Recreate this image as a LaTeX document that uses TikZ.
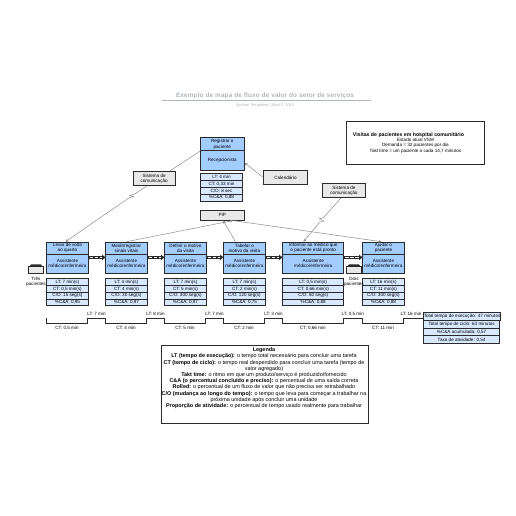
\documentclass[tikz,border=0pt]{standalone}
\usepackage{fontspec}
\setmainfont{Liberation Sans}
\usetikzlibrary{arrows.meta, backgrounds, positioning}
\definecolor{darkline}{HTML}{2A2A2A}
\definecolor{headblue}{HTML}{A3CCFF}
\definecolor{rowblue}{HTML}{D8E9FF}
\definecolor{boxgray}{HTML}{E8E8E8}
\definecolor{infogray}{HTML}{8C8C8C}
\definecolor{titlegray}{HTML}{B0B4BE}
\newcommand{\smalltxt}{\fontsize{4.6}{5.2}\selectfont}
\tikzset{
  boxbase/.style={draw=darkline, line width=0.9pt, inner sep=0pt, anchor=north west, align=center, font=\smalltxt, text=black},
  prochead/.style={boxbase, fill=headblue, minimum height=11.8pt},
  procbody/.style={boxbase, fill=headblue, minimum height=19.2pt},
  statrow/.style={boxbase, fill=rowblue, minimum height=6.75pt},
  grayblock/.style={boxbase, fill=boxgray},
  sumrow/.style={boxbase, fill=rowblue, minimum width=75.7pt, minimum height=7.9pt},
  infoline/.style={draw=infogray, line width=0.5pt},
  infoarrow/.style={infoline, -{Stealth[length=3pt,width=3pt]}},
  pushline/.style={draw=darkline, line width=2.4pt, -{Stealth[length=3.5pt,width=6pt]}},
  pushdash/.style={draw=white, line width=0.8pt, dash pattern=on 3.5pt off 1.5pt},
  tinylabel/.style={font=\smalltxt, text=black, align=center, inner sep=0pt},
  legendline/.style={draw=darkline, line width=0.9pt}
}
\begin{document}
\begin{tikzpicture}[x=1pt, y=-1pt]
\useasboundingbox (0,0) rectangle (516,516);
\node[font=\fontsize{6.4}{8}\bfseries\addfontfeature{LetterSpace=2.5}, text=titlegray, inner sep=0pt] (title) at (265,96) {Exemplo de mapa de fluxo de valor do setor de serviços};
\draw[titlegray, line width=0.9pt] (162,100.3) -- (371,100.3);
\node[font=\fontsize{4}{4.5}\selectfont, text=titlegray, inner sep=0pt] (subtitle) at (265,105) {System Templates | April 2, 2015};

\node[boxbase, minimum width=137.4pt, minimum height=42.7pt] (visits) at (346.3,121) {\fontsize{5.2}{5.75}\selectfont \textbf{Visitas de pacientes em hospital comunitário}\hspace*{14pt}\\Estado atual VSM\\Demanda = 32 pacientes por dia\\Takt time = um paciente a cada 14,7 minutos};

\node[prochead, minimum width=43.7pt, minimum height=13pt] (reghead) at (200,137.3) {Registrar o\\paciente};
\node[procbody, minimum width=43.7pt] (regbody) at (200,150.3) {Recepcionista};
\foreach \i/\txt in {0/{LT: 4 min}, 1/{CT: 0,33 min}, 2/{C/O: 8 sec}, 3/{\%C\&A: 0,88}} {
\node[statrow, minimum width=42pt] (regstat\i) at (200,173.3+\i*6.85) {\txt};
}
\node[grayblock, minimum width=42pt, minimum height=13.4pt] (syslink) at (132.7,171.3) {Sistema de\\comunicação};
\node[grayblock, minimum width=43.4pt, minimum height=13.4pt] (calendar) at (263.3,170.3) {Calendário};
\node[grayblock, minimum width=42.4pt, minimum height=13.4pt] (sysright) at (322.3,183.3) {Sistema de\\comunicação};
\node[grayblock, minimum width=43.7pt, minimum height=10pt] (pip) at (200,209.7) {PIP};

\foreach \nm/\px/\pw/\head/\lt/\ct/\co/\ca in {
p1/46.3/41.4/{Levar de volta\\ao quarto}/7 min(s)/{0,5 min(s)}/15 seg(s)/{0,95},
p2/105.3/41.4/{Medir/registrar\\sinais vitais}/4 min(s)/4 min(s)/30 seg(s)/{0,97},
p3/164.3/41.4/{Definir o motivo\\da visita}/7 min(s)/5 min(s)/300 seg(s)/{0,97},
p4/223.3/41.4/{Tabelar o\\motivo da visita}/7 min(s)/2 min(s)/120 seg(s)/{0,75},
p5/282.3/61/{Informar ao médico que\\o paciente está pronto}/{0,5 min(s)}/{0,66 min(s)}/60 seg(s)/{0,88},
p6/362.3/41.4/{Ajudar o\\paciente}/16 min(s)/11 min(s)/300 seg(s)/{0,88}} {
\node[prochead, minimum width=\pw pt] (\nm head) at (\px,241.7) {\head};
\node[procbody, minimum width=\pw pt] (\nm body) at (\px,253.5) {Assistente\\médico/enfermeira};
\node[statrow, minimum width=\pw pt] (\nm lt) at (\px,278.3) {LT: \lt};
\node[statrow, minimum width=\pw pt] (\nm ct) at (\px,285.05) {CT: \ct};
\node[statrow, minimum width=\pw pt] (\nm co) at (\px,291.8) {C/O: \co};
\node[statrow, minimum width=\pw pt] (\nm ca) at (\px,298.55) {\%C\&A: \ca};
}

\begin{scope}[on background layer]
\coordinate (zapa) at (134.2,194.3);
\coordinate (zapb) at (129.7,195.4);
\coordinate (zapc) at (133.7,196.6);
\coordinate (zapd) at (129.2,197.7);
\draw[infoarrow] (reghead.south west) -- (zapa) -- (zapb) -- (zapc) -- (zapd) -- ([xshift=-2pt]p1head.north);
\coordinate (zape) at (323.6,217.4);
\coordinate (zapf) at (319.6,218.6);
\coordinate (zapg) at (323.8,221);
\coordinate (zaph) at (319.8,222);
\draw[infoarrow] ([xshift=-2.5pt]sysright.south) -- (zape) -- (zapf) -- (zapg) -- (zaph) -- ([xshift=-9.8pt]p5head.north);
\end{scope}
\draw[infoarrow] (calendar.west) -- ([yshift=-2.5pt]regbody.east);
\draw[infoarrow] (p2head.north) -- ([xshift=-11.8pt]pip.south east);
\draw[infoarrow] ([xshift=-9pt]p4head.north) -- ([xshift=1pt]pip.south);
\draw[infoarrow] ([xshift=11pt]pip.south) -- ([xshift=-2pt]p6head.north);

\foreach \pa/\pb in {p1/p2, p2/p3, p3/p4, p4/p5, p5/p6} {
\draw[pushline] ([yshift=6.2pt]\pa body.east) -- ([yshift=6.2pt]\pb body.west);
\draw[pushdash] ([yshift=6.2pt,xshift=1pt]\pa body.east) -- ([yshift=6.2pt,xshift=-3.5pt]\pb body.west);
}

\foreach \inv/\px/\txt in {inva/28.3/{Três\\pacientes}, invb/346.3/{Dois\\pacientes}} {
\node[boxbase, fill=boxgray, minimum width=14.4pt, minimum height=7pt] (\inv) at (\px,266) {};
\fill[darkline] ([xshift=1.5pt]\inv.north west) -- ++(1.2,-1.7) -- ([xshift=-2.7pt,yshift=1.7pt]\inv.north east) -- ([xshift=-1.5pt]\inv.north east) -- cycle;
\node[tinylabel, below=3.2pt of \inv] (\inv text) {\txt};
}

\draw[darkline, line width=0.9pt] (46.3,318.3) -- (46.3,323) -- (87.7,323) -- (87.7,318.3) -- (105.3,318.3) -- (105.3,323) -- (146.7,323) -- (146.7,318.3) -- (164.3,318.3) -- (164.3,323) -- (205.7,323) -- (205.7,318.3) -- (223.3,318.3) -- (223.3,323) -- (264.7,323) -- (264.7,318.3) -- (282.3,318.3) -- (282.3,323) -- (343.3,323) -- (343.3,318.3) -- (362.3,318.3) -- (362.3,323) -- (403.7,323) -- (403.7,318.3) -- (423.3,318.3);
\foreach \i/\px/\txt in {1/96.5/7 min, 2/155.5/8 min, 3/214.5/7 min, 4/273.5/3 min, 5/352.8/{0,5 min}, 6/411/16 min} {
\node[tinylabel] (ltmark\i) at (\px,314) {LT: \txt};
}
\foreach \i/\px/\txt in {1/67/{0,5 min}, 2/126/4 min, 3/185/5 min, 4/244/2 min, 5/312.8/{0,66 min}, 6/383/11 min} {
\node[tinylabel] (ctmark\i) at (\px,327.7) {CT: \txt};
}

\foreach \i/\txt in {0/Total tempo de execução: 47 minutos, 1/Total tempo de ciclo: 63 minutos, 2/{\%C\&A acumulada: 0,57}, 3/{Taxa de atividade: 0,54}} {
\node[sumrow] (sum\i) at (423.3,311.7+\i*7.9) {\txt};
}

\node[legendline, draw, inner sep=0pt, anchor=north west, minimum width=207pt, minimum height=77.7pt] (legendbox) at (161,345) {};
\node[anchor=north, inner sep=0pt, align=center, font=\fontsize{5.45}{6.2}\selectfont, text=black] (legend) at (264,347.6) {\textbf{Legenda}\\
\textbf{LT (tempo de execução):} o tempo total necessário para concluir uma tarefa\\
\textbf{CT (tempo de ciclo):} o tempo real despendido para concluir uma tarefa (tempo de\\
valor agregado)\\
\textbf{Takt time:} o ritmo em que um produto/serviço é produzido/fornecido\\
\textbf{C\&A (o percentual concluído e preciso):} o percentual de uma saída correta\\
\textbf{Rolled:} o percentual de um fluxo de valor que não precisa ser retrabalhado\\
\textbf{C/O (mudança ao longo do tempo):} o tempo que leva para começar a trabalhar na\\
próxima unidade após concluir uma unidade\\
\textbf{Proporção de atividade:} o percentual de tempo usado realmente para trabalhar};
\end{tikzpicture}
\end{document}
